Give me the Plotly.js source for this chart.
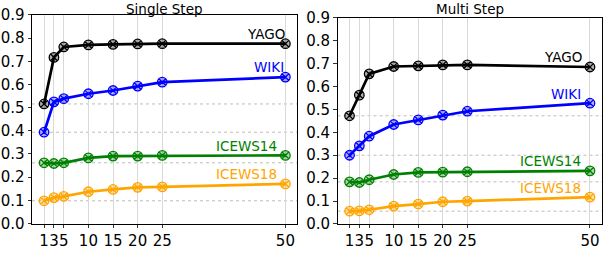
<!DOCTYPE html>
<html>
<head>
<meta charset="utf-8">
<script src="https://cdn.plot.ly/plotly-3.0.1.min.js"></script>
<style>html,body{margin:0;padding:0;background:#fff;}#chart{width:604px;height:274px;}</style>
</head>
<body>
<div id="chart"></div>
<script>
// Data
const steps = [1, 3, 5, 10, 15, 20, 25, 50];
const seriesNames = ["YAGO", "WIKI", "ICEWS14", "ICEWS18"];
const seriesColors = ["#000000", "#0000ff", "#008000", "#ffa500"];
const seriesFills = ["rgba(0,0,0,0.3)", "rgba(0,0,255,0.3)", "rgba(0,128,0,0.3)", "rgba(255,165,0,0.3)"];

const singleYAGO    = [0.516, 0.717, 0.762, 0.771, 0.773, 0.775, 0.776, 0.776];
const singleWIKI    = [0.394, 0.525, 0.539, 0.560, 0.574, 0.593, 0.610, 0.632];
const singleICEWS14 = [0.262, 0.259, 0.262, 0.283, 0.291, 0.291, 0.294, 0.294];
const singleICEWS18 = [0.098, 0.112, 0.117, 0.137, 0.147, 0.156, 0.158, 0.171];

const multiYAGO    = [0.472, 0.562, 0.655, 0.687, 0.690, 0.694, 0.694, 0.685];
const multiWIKI    = [0.300, 0.341, 0.383, 0.434, 0.454, 0.475, 0.492, 0.527];
const multiICEWS14 = [0.184, 0.181, 0.193, 0.216, 0.225, 0.226, 0.228, 0.232];
const multiICEWS18 = [0.056, 0.057, 0.062, 0.078, 0.087, 0.097, 0.100, 0.117];

const panelTitles = ["Single Step", "Multi Step"];
const yTicks = [0, 0.1, 0.2, 0.3, 0.4, 0.5, 0.6, 0.7, 0.8, 0.9];
const yTickText = ["0.0", "0.1", "0.2", "0.3", "0.4", "0.5", "0.6", "0.7", "0.8", "0.9"];

const panels = [
  [singleYAGO, singleWIKI, singleICEWS14, singleICEWS18],
  [multiYAGO, multiWIKI, multiICEWS14, multiICEWS18]
];
// label horizontal pixel shifts (right edge relative to x=50)
const labelShift = [[2, 0.7, -6.3, -6.3], [-6, -7.3, -6.7, -7.3]];

const traces = [];
const shapes = [];
const annotations = [];
const fontFam = "DejaVu Sans, sans-serif";

panels.forEach((panel, p) => {
  const xa = p === 0 ? "x" : "x2";
  const ya = p === 0 ? "y" : "y2";
  panel.forEach((vals, i) => {
    shapes.push({
      type: "line", xref: xa + " domain", yref: ya,
      x0: 0, x1: 1, y0: vals[0], y1: vals[0],
      line: {color: "#bdbdbd", width: 1, dash: "dot"}, layer: "below"
    });
    traces.push({
      x: steps, y: vals, xaxis: xa, yaxis: ya,
      type: "scatter", mode: "lines+markers",
      line: {color: seriesColors[i], width: 2.7},
      marker: {symbol: "circle-x", size: 9.5, color: seriesFills[i],
               line: {color: seriesColors[i], width: 1.3}},
      showlegend: false, hoverinfo: "skip"
    });
    const last = vals[vals.length - 1];
    annotations.push({
      x: steps[steps.length - 1], y: last + 0.042, xref: xa, yref: ya,
      xshift: labelShift[p][i],
      text: seriesNames[i], showarrow: false, xanchor: "right", yanchor: "middle",
      font: {family: fontFam, size: 13.5, color: seriesColors[i]}
    });
  });
  annotations.push({
    x: 0.5, y: 1 - 8.5 / 274, xref: xa + " domain", yref: "paper", yanchor: "middle",
    text: panelTitles[p], showarrow: false,
    font: {family: fontFam, size: 13.5, color: "#000"}
  });
});

function xaxis(domain, anchor) {
  return {
    domain: domain, range: [-1.45, 52.45], anchor: anchor,
    tickvals: steps, ticktext: steps.map(String), tickangle: 0,
    ticks: "outside", ticklen: 3.5, tickwidth: 0.8, tickcolor: "#000",
    showgrid: true, gridcolor: "#d9d9d9", gridwidth: 1,
    showline: true, linecolor: "#000", linewidth: 1, mirror: true,
    zeroline: false, tickfont: {family: fontFam, size: 15, color: "#000"}
  };
}
function yaxis(domain, anchor) {
  return {
    domain: domain, range: [0, 0.9], anchor: anchor,
    tickvals: yTicks, ticktext: yTickText,
    ticks: "outside", ticklen: 3.5, tickwidth: 0.8, tickcolor: "#000",
    showgrid: false,
    showline: true, linecolor: "#000", linewidth: 1, mirror: true,
    zeroline: false, tickfont: {family: fontFam, size: 15, color: "#000"}
  };
}

const layout = {
  width: 604, height: 274,
  margin: {l: 0, r: 0, t: 0, b: 0},
  paper_bgcolor: "#fff", plot_bgcolor: "#fff",
  xaxis: xaxis([0.053, 0.4925], "y"),
  yaxis: yaxis([0.1843, 0.9453], "x"),
  xaxis2: xaxis([0.5588, 0.9967], "y2"),
  yaxis2: yaxis([0.1825, 0.9354], "x2"),
  shapes: shapes,
  annotations: annotations,
  showlegend: false
};

Plotly.newPlot("chart", traces, layout, {staticPlot: true, displayModeBar: false});
</script>
</body>
</html>
